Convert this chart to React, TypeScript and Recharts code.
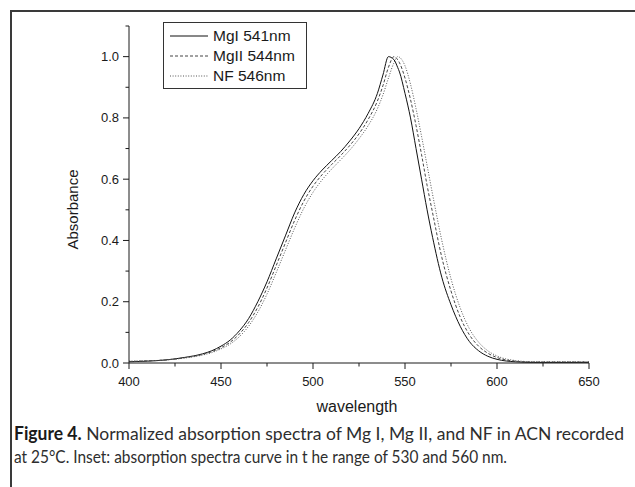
import React from 'react';
import { LineChart, Line, XAxis, YAxis, Legend, Label } from 'recharts';

const wavelengths = [400, 410, 420, 430, 440, 445, 450, 455, 460, 465, 470, 475, 480, 485, 490, 495, 500, 505, 510, 515, 520, 525, 530, 535, 538, 541, 544, 546, 547, 550, 553, 556, 559, 562, 565, 570, 575, 580, 585, 590, 595, 600, 610, 620, 650];

const mgI = [0.004, 0.006, 0.010, 0.018, 0.030, 0.040, 0.055, 0.075, 0.105, 0.145, 0.200, 0.265, 0.340, 0.415, 0.490, 0.550, 0.595, 0.630, 0.660, 0.690, 0.725, 0.765, 0.815, 0.880, 0.940, 1.000, 0.990, 0.965, 0.950, 0.880, 0.800, 0.700, 0.600, 0.500, 0.410, 0.280, 0.190, 0.120, 0.070, 0.040, 0.022, 0.012, 0.004, 0.002, 0.002];

const mgII = [0.005, 0.007, 0.010, 0.017, 0.028, 0.037, 0.050, 0.068, 0.095, 0.132, 0.182, 0.245, 0.318, 0.392, 0.465, 0.528, 0.577, 0.615, 0.647, 0.677, 0.710, 0.748, 0.795, 0.855, 0.905, 0.965, 1.000, 0.990, 0.980, 0.930, 0.860, 0.775, 0.680, 0.580, 0.490, 0.345, 0.235, 0.150, 0.092, 0.055, 0.032, 0.018, 0.006, 0.003, 0.003];

const nf = [0.006, 0.007, 0.010, 0.016, 0.026, 0.034, 0.046, 0.062, 0.086, 0.120, 0.166, 0.225, 0.295, 0.368, 0.440, 0.505, 0.557, 0.598, 0.632, 0.663, 0.695, 0.732, 0.775, 0.830, 0.875, 0.930, 0.980, 1.000, 0.998, 0.970, 0.910, 0.830, 0.740, 0.645, 0.550, 0.400, 0.275, 0.180, 0.112, 0.068, 0.040, 0.023, 0.008, 0.004, 0.004];

const seriesNames = ['MgI 541nm', 'MgII 544nm', 'NF 546nm'];
const xTicks = [400, 425, 450, 475, 500, 525, 550, 575, 600, 625, 650];
const yTicks = [0, 0.1, 0.2, 0.3, 0.4, 0.5, 0.6, 0.7, 0.8, 0.9, 1.0, 1.1];

const captionLine1 = 'Normalized absorption spectra of Mg I, Mg II, and NF in ACN recorded';
const captionLine2 = 'at 25°C. Inset: absorption spectra curve in t he range of 530 and 560 nm.';

const data = wavelengths.map((w, i) => ({ w, a: mgI[i], b: mgII[i], c: nf[i] }));

const AX_FONT = '"Liberation Sans", Arial, sans-serif';
const CAP_FONT = 'Lato, "Open Sans", sans-serif';
const INK = '#1a1a1a';
const CAP_SX = 0.86;

const styles: Record<string, { stroke: string; dash?: string }> = {
  a: { stroke: '#111111' },
  b: { stroke: '#444444', dash: '3 2' },
  c: { stroke: '#555555', dash: '1 1.6' },
};

const XTick = (props: any) => {
  const { x, y, payload } = props;
  const v = payload.value;
  const major = v % 50 === 0;
  return (
    <g>
      <line x1={x} x2={x} y1={y} y2={y + (major ? 6 : 3.5)} stroke={INK} strokeWidth={1} />
      {major && (
        <text x={x} y={y + 23} textAnchor="middle" fontSize={13} fill={INK} fontFamily={AX_FONT}>
          {v}
        </text>
      )}
    </g>
  );
};

const YTick = (props: any) => {
  const { x, y, payload } = props;
  const v = payload.value;
  const k = Math.round(v * 10);
  const major = k % 2 === 0 && k <= 10;
  return (
    <g>
      <line x1={x - (major ? 6 : 3.5)} x2={x} y1={y} y2={y} stroke={INK} strokeWidth={1} />
      {major && (
        <text x={x - 10} y={y + 4.5} textAnchor="end" fontSize={13} fill={INK} fontFamily={AX_FONT}>
          {v.toFixed(1)}
        </text>
      )}
    </g>
  );
};

const LegendBox = (props: any) => {
  const payload = props.payload || [];
  return (
    <div
      style={{
        border: '1px solid #333',
        background: '#fff',
        width: 144,
        padding: '3px 0 2px 0',
        boxSizing: 'border-box',
      }}
    >
      {payload.map((p: any) => {
        const s = styles[p.dataKey] || { stroke: '#000' };
        return (
          <div key={p.dataKey} style={{ display: 'flex', alignItems: 'center', height: 20 }}>
            <svg width={49} height={20} style={{ display: 'block' }}>
              <line x1={6} x2={44} y1={10} y2={10} stroke={s.stroke} strokeWidth={1} strokeDasharray={s.dash} />
            </svg>
            <span style={{ fontFamily: AX_FONT, fontSize: 15.5, color: INK, whiteSpace: 'nowrap' }}>{p.value}</span>
          </div>
        );
      })}
    </div>
  );
};

const YTitle = (props: any) => {
  const vb = props.viewBox || { x: 0, y: 0, width: 0, height: 0 };
  const cx = vb.x + 72;
  const cy = vb.y + vb.height / 2 + 15;
  return (
    <text
      x={cx}
      y={cy}
      transform={`rotate(-90, ${cx}, ${cy})`}
      textAnchor="middle"
      dominantBaseline="central"
      fontSize={15}
      fill={INK}
      fontFamily={AX_FONT}
    >
      Absorbance
    </text>
  );
};

const XTitle = (props: any) => {
  const vb = props.viewBox || { x: 0, y: 0, width: 0, height: 0 };
  return (
    <text
      x={vb.x + vb.width / 2 - 2}
      y={vb.y + 49}
      textAnchor="middle"
      fontSize={16}
      fill={INK}
      fontFamily={AX_FONT}
    >
      wavelength
    </text>
  );
};

export default function App() {
  return (
    <div style={{ position: 'absolute', left: 0, top: 0, width: 635, height: 487, overflow: 'hidden', background: '#fff' }}>
      <div
        style={{
          position: 'absolute',
          left: 10,
          top: 10,
          width: 640,
          height: 490,
          borderTop: '2px solid #3a3a3a',
          borderLeft: '2px solid #3a3a3a',
          boxSizing: 'border-box',
        }}
      />
      <div style={{ position: 'absolute', left: 0, top: 0 }}>
        <LineChart width={635} height={420} data={data} margin={{ top: 26, right: 46, left: 0, bottom: 20 }}>
          <XAxis
            dataKey="w"
            type="number"
            domain={[400, 650]}
            ticks={xTicks}
            interval={0}
            tickSize={0}
            tickMargin={0}
            tickLine={false}
            tick={<XTick />}
            height={37}
            axisLine={{ stroke: INK, strokeWidth: 1 }}
          >
            <Label content={<XTitle />} />
          </XAxis>
          <YAxis
            type="number"
            domain={[0, 1.1]}
            ticks={yTicks}
            interval={0}
            tickSize={0}
            tickMargin={0}
            tickLine={false}
            tick={<YTick />}
            width={129}
            axisLine={{ stroke: INK, strokeWidth: 1 }}
            allowDataOverflow
          >
            <Label content={<YTitle />} />
          </YAxis>
          <Legend
            layout="horizontal"
            verticalAlign="middle"
            align="center"
            content={<LegendBox />}
            wrapperStyle={{ left: 163, top: 22, width: 'auto', height: 'auto' }}
          />
          <Line type="monotone" dataKey="a" name={seriesNames[0]} stroke={styles.a.stroke} strokeWidth={1} dot={false} isAnimationActive={false} />
          <Line type="monotone" dataKey="b" name={seriesNames[1]} stroke={styles.b.stroke} strokeDasharray={styles.b.dash} strokeWidth={1} dot={false} isAnimationActive={false} />
          <Line type="monotone" dataKey="c" name={seriesNames[2]} stroke={styles.c.stroke} strokeDasharray={styles.c.dash} strokeWidth={1} dot={false} isAnimationActive={false} />
        </LineChart>
      </div>
      <svg width={635} height={67} style={{ position: 'absolute', left: 0, top: 420, display: 'block' }}>
        <g transform={`translate(14, 0) scale(${CAP_SX}, 1)`}>
          <text x={0} y={20} textLength={610 / CAP_SX} lengthAdjust="spacingAndGlyphs" fontFamily={CAP_FONT} fontSize={18} fill="#2e2e2e">
            <tspan fontWeight={700} fill="#1a1a1a">Figure 4.</tspan>
            <tspan> {captionLine1}</tspan>
          </text>
          <text x={0} y={43} textLength={493 / CAP_SX} lengthAdjust="spacingAndGlyphs" fontFamily={CAP_FONT} fontSize={18} fill="#2e2e2e">
            {captionLine2}
          </text>
        </g>
      </svg>
    </div>
  );
}
